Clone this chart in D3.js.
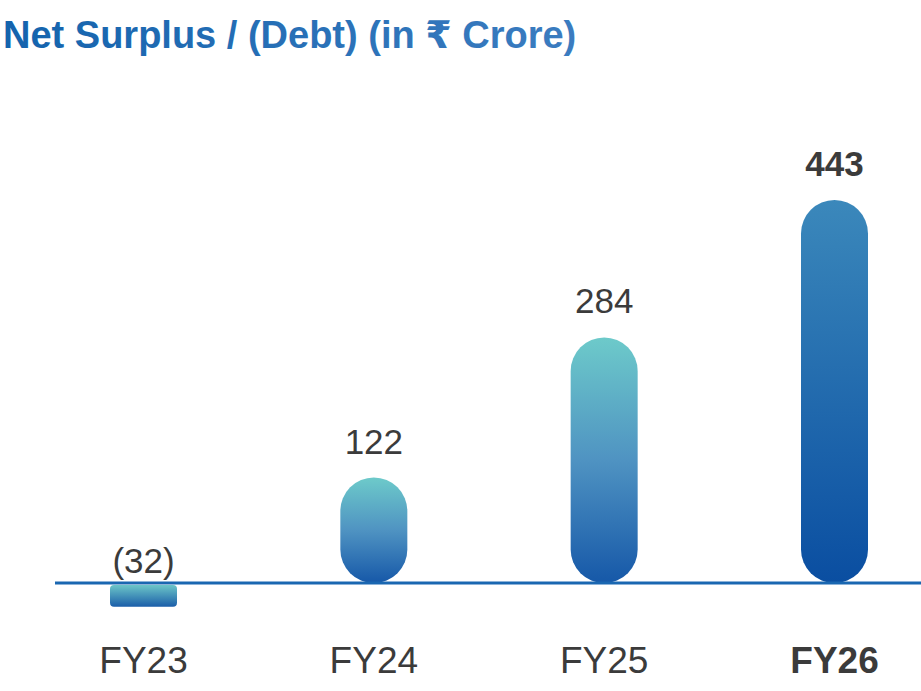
<!DOCTYPE html>
<html>
<head>
<meta charset="utf-8">
<script src="https://cdn.jsdelivr.net/npm/d3@7"></script>
<style>
  html, body { margin: 0; padding: 0; background: #fff; }
  svg { display: block; font-family: "Liberation Sans", Arial, "DejaVu Sans", sans-serif; }
</style>
</head>
<body>
<div id="chart"></div>
<script>
"use strict";
// data
let years = ["FY23", "FY24", "FY25", "FY26"];
let values = [-32, 122, 284, 443];
let valueLabels = ["(32)", "122", "284", "443"];
let highlight = "FY26";

let width = 921, height = 691;
let baseY = 583;

let svg = d3.select("#chart").append("svg")
    .attr("width", width)
    .attr("height", height);

let defs = svg.append("defs");

// title gradient (darker on the left)
let tg = defs.append("linearGradient").attr("id", "title-grad")
    .attr("x1", "0%").attr("x2", "100%").attr("y1", "0%").attr("y2", "0%");
tg.append("stop").attr("offset", "0%").attr("stop-color", "#1463ad");
tg.append("stop").attr("offset", "100%").attr("stop-color", "#3b7cc0");

// bar gradients
let teal = defs.append("linearGradient").attr("id", "bar-grad")
    .attr("x1", "0").attr("x2", "0").attr("y1", "0").attr("y2", "1");
teal.append("stop").attr("offset", "0%").attr("stop-color", "#6dcaca");
teal.append("stop").attr("offset", "50%").attr("stop-color", "#4f93c2");
teal.append("stop").attr("offset", "100%").attr("stop-color", "#1658a8");

let dark = defs.append("linearGradient").attr("id", "bar-grad-hi")
    .attr("x1", "0").attr("x2", "0").attr("y1", "0").attr("y2", "1");
dark.append("stop").attr("offset", "0%").attr("stop-color", "#3b88bb");
dark.append("stop").attr("offset", "100%").attr("stop-color", "#0a4ea1");

let neg = defs.append("linearGradient").attr("id", "bar-grad-neg")
    .attr("x1", "0").attr("x2", "0").attr("y1", "0").attr("y2", "1");
neg.append("stop").attr("offset", "0%").attr("stop-color", "#6cc6c8");
neg.append("stop").attr("offset", "100%").attr("stop-color", "#1b5ea9");

// title
svg.append("text")
    .attr("x", 3)
    .attr("y", 48)
    .style("font-size", "38px")
    .style("font-weight", "bold")
    .style("fill", "url(#title-grad)")
    .text("Net Surplus / (Debt) (in \u20B9 Crore)");

// scales
let x = d3.scalePoint()
    .domain(years)
    .range([143.5, 834.5]);

let y = d3.scaleLinear()
    .domain([0, 443])
    .range([baseY, 200]);

let barW = 67;

// bars
years.forEach((yr, i) => {
    let v = values[i];
    let cx = x(yr);
    if (v >= 0) {
        let top = y(v), h = baseY - top;
        let r = Math.min(barW / 2, h / 2);
        svg.append("rect")
            .attr("x", cx - barW / 2)
            .attr("y", top)
            .attr("width", barW)
            .attr("height", h)
            .attr("rx", r).attr("ry", r)
            .style("fill", yr === highlight ? "url(#bar-grad-hi)" : "url(#bar-grad)");
    } else {
        let bottom = y(v) - 4;
        svg.append("rect")
            .attr("x", cx - barW / 2)
            .attr("y", baseY + 2)
            .attr("width", barW)
            .attr("height", bottom - baseY - 2)
            .attr("rx", 4).attr("ry", 4)
            .style("fill", "url(#bar-grad-neg)");
    }
});

// baseline
svg.append("line")
    .attr("x1", 55).attr("x2", width)
    .attr("y1", baseY).attr("y2", baseY)
    .style("stroke", "#1a67b1")
    .style("stroke-width", 3);

// value labels
svg.selectAll(".val")
    .data(years)
    .enter()
    .append("text")
    .attr("class", "val")
    .attr("x", d => x(d))
    .attr("y", (d, i) => values[i] >= 0 ? y(values[i]) - 24 : baseY - 10)
    .style("text-anchor", "middle")
    .style("font-size", "35px")
    .style("font-weight", d => d === highlight ? "bold" : "normal")
    .style("fill", "#3b3b3b")
    .text((d, i) => valueLabels[i]);

// category labels
svg.selectAll(".cat")
    .data(years)
    .enter()
    .append("text")
    .attr("class", "cat")
    .attr("x", d => x(d))
    .attr("y", 673)
    .style("text-anchor", "middle")
    .style("font-size", "37px")
    .style("font-weight", d => d === highlight ? "bold" : "normal")
    .style("fill", "#3b3b3b")
    .text(d => d);
</script>
</body>
</html>
